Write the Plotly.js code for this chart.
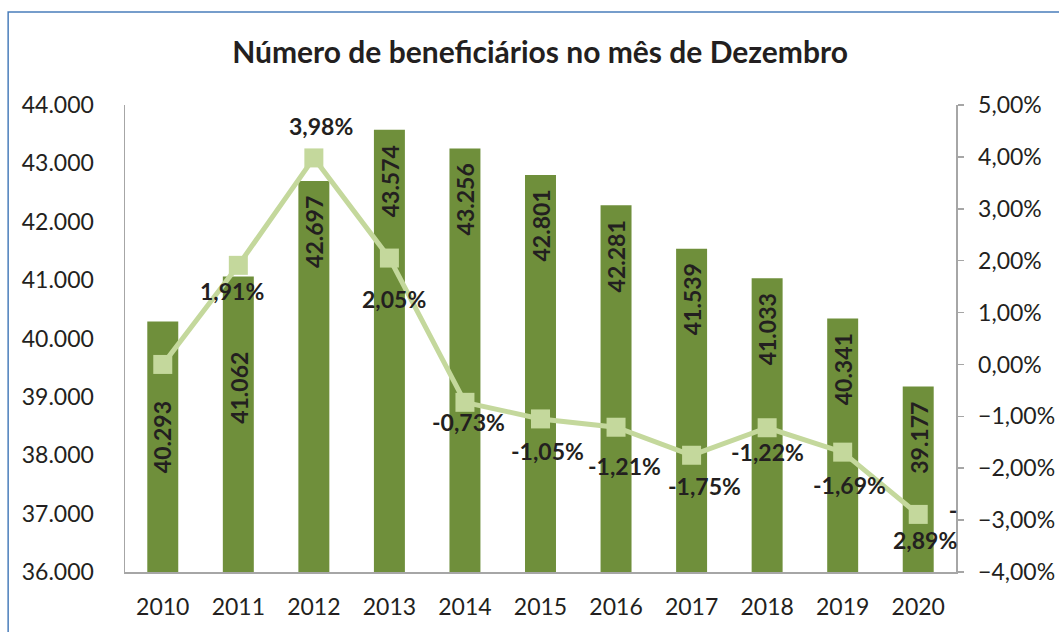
<!DOCTYPE html>
<html>
<head>
<meta charset="utf-8">
<script src="https://cdn.plot.ly/plotly-3.0.1.min.js"></script>
<style>html,body{margin:0;padding:0;background:#fff;}#chart{width:1059px;height:632px;}</style>
</head>
<body>
<div id="chart"></div>
<script>
const years = [2010, 2011, 2012, 2013, 2014, 2015, 2016, 2017, 2018, 2019, 2020];
const beneficiarios = [40293, 41062, 42697, 43574, 43256, 42801, 42281, 41539, 41033, 40341, 39177];
const variacao = [0.00, 1.91, 3.98, 2.05, -0.73, -1.05, -1.21, -1.75, -1.22, -1.69, -2.89];
const barLabels = ["40.293","41.062","42.697","43.574","43.256","42.801","42.281","41.539","41.033","40.341","39.177"];
const lineLabels = ["", "1,91%", "3,98%", "2,05%", "-0,73%", "-1,05%", "-1,21%", "-1,75%", "-1,22%", "-1,69%", "-<br>2,89%"];
const title = "Número de beneficiários no mês de Dezembro";

// label placement (style only)
const barLabelShift = {2010: -78, 2011: -73};
const lineLabelShift = {
  2011: [-6, -26], 2012: [7, 32], 2013: [5, -41], 2014: [4, -20],
  2015: [7, -32], 2016: [8, -39], 2017: [13, -31], 2018: [0, -24],
  2019: [7, -33]
};

const FONT = "Lato, 'Open Sans', sans-serif";
const TXT = "#231f20";

const annotations = [];
years.forEach((yr, i) => {
  annotations.push({
    x: yr, y: beneficiarios[i], xref: "x", yref: "y",
    text: "<b>" + barLabels[i] + "</b>", showarrow: false,
    textangle: -90, yanchor: "top", xanchor: "center",
    yshift: barLabelShift[yr] !== undefined ? barLabelShift[yr] : -13,
    font: {family: FONT, size: 23, color: TXT}
  });
  if (lineLabels[i]) {
    if (yr === 2020) {
      annotations.push({
        x: yr, y: variacao[i], xref: "x", yref: "y2",
        text: "<b>" + lineLabels[i] + "</b>", showarrow: false,
        xanchor: "right", yanchor: "middle", align: "right",
        xshift: 41, yshift: -11,
        font: {family: FONT, size: 23, color: TXT}
      });
    } else {
      const s = lineLabelShift[yr] || [0, -22];
      annotations.push({
        x: yr, y: variacao[i], xref: "x", yref: "y2",
        text: "<b>" + lineLabels[i] + "</b>", showarrow: false,
        xanchor: "center", yanchor: "middle",
        xshift: s[0], yshift: s[1],
        font: {family: FONT, size: 23, color: TXT}
      });
    }
  }
});

const data = [
  {
    type: "bar", x: years, y: beneficiarios,
    marker: {color: "#6f8f3b"}, hoverinfo: "none", name: "Beneficiários"
  },
  {
    type: "scatter", mode: "lines+markers", x: years, y: variacao, yaxis: "y2",
    line: {color: "#c4d89c", width: 5},
    marker: {symbol: "square", size: 19, color: "#c4d89c"},
    hoverinfo: "none", name: "Variação", cliponaxis: false
  }
];

const layout = {
  width: 1059, height: 632,
  margin: {l: 125, r: 103, t: 105, b: 60},
  paper_bgcolor: "#ffffff", plot_bgcolor: "#ffffff",
  separators: ",.",
  showlegend: false,
  bargap: 0.59,
  font: {family: FONT, color: TXT},
  title: {
    text: "<b>" + title + "</b>",
    x: 0.51, xanchor: "center", y: 1 - 52/632, yanchor: "middle", yref: "container",
    font: {family: FONT, size: 30, color: TXT}
  },
  xaxis: {
    type: "linear", range: [2009.5, 2020.5], dtick: 1, tick0: 2010, tickformat: "d",
    showline: true, linecolor: "#a6a6a6", linewidth: 1.5,
    ticks: "", showgrid: false, zeroline: false,
    tickfont: {family: FONT, size: 23, color: TXT},
    ticklabelstandoff: 14
  },
  yaxis: {
    range: [36000, 44000], dtick: 1000, tickformat: ",d",
    showline: true, linecolor: "#a6a6a6", linewidth: 1.5,
    ticks: "", showgrid: false, zeroline: false,
    tickfont: {family: FONT, size: 23, color: TXT},
    ticklabelstandoff: 25
  },
  yaxis2: {
    overlaying: "y", side: "right",
    range: [-4, 5], dtick: 1, tickformat: ".2f", ticksuffix: "%",
    showline: true, linecolor: "#a6a6a6", linewidth: 1.5,
    ticks: "outside", ticklen: 6, tickcolor: "#a6a6a6", tickwidth: 1.5,
    showgrid: false, zeroline: false,
    tickfont: {family: FONT, size: 23, color: TXT},
    ticklabelstandoff: 10
  },
  shapes: [{
    type: "rect", xref: "paper", yref: "paper",
    x0: (8 - 125) / 832, x1: 1.2, y0: -0.3, y1: (572 - 12) / 467,
    line: {color: "#4a7ebb", width: 1.5}, fillcolor: "rgba(0,0,0,0)", layer: "below"
  }],
  annotations: annotations
};

Plotly.newPlot("chart", data, layout, {staticPlot: true, displayModeBar: false});
</script>
</body>
</html>
